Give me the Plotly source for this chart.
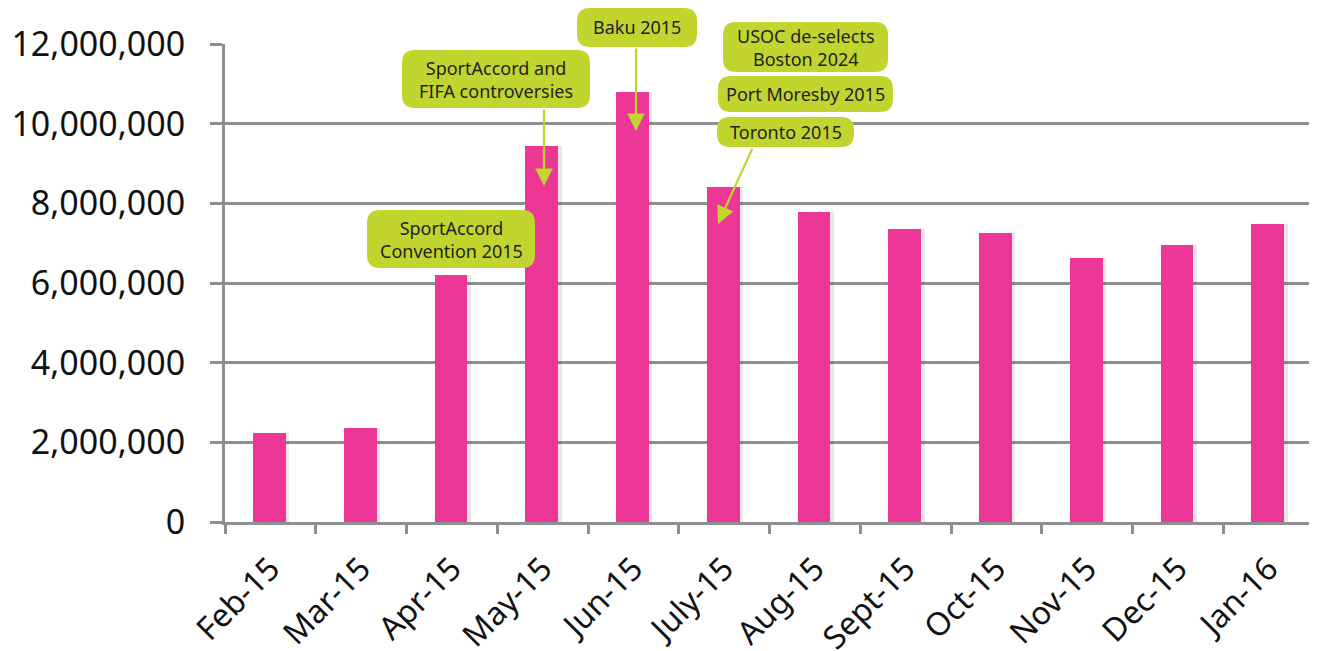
import plotly.graph_objects as go

months = ["Feb-15", "Mar-15", "Apr-15", "May-15", "Jun-15", "July-15",
          "Aug-15", "Sept-15", "Oct-15", "Nov-15", "Dec-15", "Jan-16"]
visits = [2240000, 2350000, 6200000, 9450000, 10800000, 8400000,
          7780000, 7360000, 7260000, 6640000, 6950000, 7470000]
y_ticks = [0, 2000000, 4000000, 6000000, 8000000, 10000000, 12000000]
y_tick_labels = ["0", "2,000,000", "4,000,000", "6,000,000", "8,000,000",
                 "10,000,000", "12,000,000"]

# page has an 8px body margin, so the figure starts at (8, 8) on screen
OFF = 8
W, H = 1317 - OFF, 651 - OFF
L, R, T, B = 225 - OFF, 3, 44 - OFF, 129
PW, PH = W - L - R, H - T - B

PINK = "#EC3797"
GREEN = "#C2D52F"
GRID = "#8D9092"
FONT = "Noto Sans, Open Sans, sans-serif"


def px(x):
    # screen pixel -> paper
    return (x - OFF - L) / PW


def py(y):
    return (H - B - (y - OFF)) / PH


def rounded_box(x0, y0, x1, y1, r=12):
    pts = [
        f"M {px(x0 + r)},{py(y0)}",
        f"L {px(x1 - r)},{py(y0)}",
        f"Q {px(x1)},{py(y0)} {px(x1)},{py(y0 + r)}",
        f"L {px(x1)},{py(y1 - r)}",
        f"Q {px(x1)},{py(y1)} {px(x1 - r)},{py(y1)}",
        f"L {px(x0 + r)},{py(y1)}",
        f"Q {px(x0)},{py(y1)} {px(x0)},{py(y1 - r)}",
        f"L {px(x0)},{py(y0 + r)}",
        f"Q {px(x0)},{py(y0)} {px(x0 + r)},{py(y0)}",
        "Z",
    ]
    return " ".join(pts)


fig = go.Figure()

# subtle shadow behind the bars
fig.add_trace(go.Bar(
    x=months, y=visits, width=0.36, offset=-0.15,
    marker=dict(color="rgba(0,0,0,0.09)", line=dict(width=0)),
    hoverinfo="skip", showlegend=False,
))
fig.add_trace(go.Bar(
    x=months, y=visits, width=0.36, offset=-0.19,
    marker=dict(color=PINK, line=dict(width=0)),
    showlegend=False,
))

callouts = [
    # (text, x0, y0, x1, y1) in screen pixels
    ("SportAccord<br>Convention 2015", 367, 210, 535, 268),
    ("SportAccord and<br>FIFA controversies", 402, 50, 590, 108),
    ("Baku 2015", 577, 8, 697, 47),
    ("USOC de-selects<br>Boston 2024", 723, 22, 888, 72),
    ("Port Moresby 2015", 718, 76, 893, 112),
    ("Toronto 2015", 717, 117, 854, 147),
]

shapes = []
annotations = []
for text, x0, y0, x1, y1 in callouts:
    shapes.append(dict(type="path", xref="paper", yref="paper",
                       path=rounded_box(x0, y0, x1, y1, 13),
                       fillcolor=GREEN, line=dict(width=0), layer="above"))
    annotations.append(dict(
        xref="paper", yref="paper", x=px((x0 + x1) / 2), y=py((y0 + y1) / 2),
        text=text, showarrow=False, xanchor="center", yanchor="middle",
        font=dict(family=FONT, size=18, color="#231F20"),
    ))

arrows = [
    # tail (x,y) -> tip (x,y) in screen pixels
    (544, 108, 544, 186),
    (636, 47, 636, 131),
    (753, 147, 718, 224),
]
for tx, ty, hx, hy in arrows:
    annotations.append(dict(
        xref="paper", yref="paper", x=px(hx), y=py(hy),
        axref="pixel", ayref="pixel", ax=tx - hx, ay=ty - hy,
        text="", showarrow=True, arrowhead=2, arrowsize=1.6,
        arrowwidth=2.2, arrowcolor=GREEN, standoff=0, startstandoff=0,
    ))

fig.update_layout(
    width=W, height=H,
    margin=dict(l=L, r=R, t=T, b=B, pad=0, autoexpand=False),
    plot_bgcolor="white", paper_bgcolor="white",
    bargap=0.0,
    shapes=shapes,
    annotations=annotations,
    font=dict(family=FONT, color="#111111"),
    xaxis=dict(
        type="category", tickson="boundaries", ticks="outside", ticklen=9,
        tickwidth=3, tickcolor=GRID, showline=True, linecolor=GRID, linewidth=3,
        showgrid=False, tickangle=-45, tickfont=dict(size=32, color="#111111"),
        range=[-0.5, 11.5], automargin=False, ticklabelstandoff=12,
    ),
    yaxis=dict(
        range=[0, 12000000], tickvals=y_ticks, ticktext=y_tick_labels,
        ticks="outside", ticklen=12, tickwidth=3, tickcolor=GRID,
        showline=True, linecolor=GRID, linewidth=3,
        showgrid=True, gridcolor=GRID, gridwidth=3, zeroline=False,
        tickfont=dict(size=34, color="#111111"), ticklabelstandoff=18,
        automargin=False,
    ),
)

fig.write_html("out.html")
